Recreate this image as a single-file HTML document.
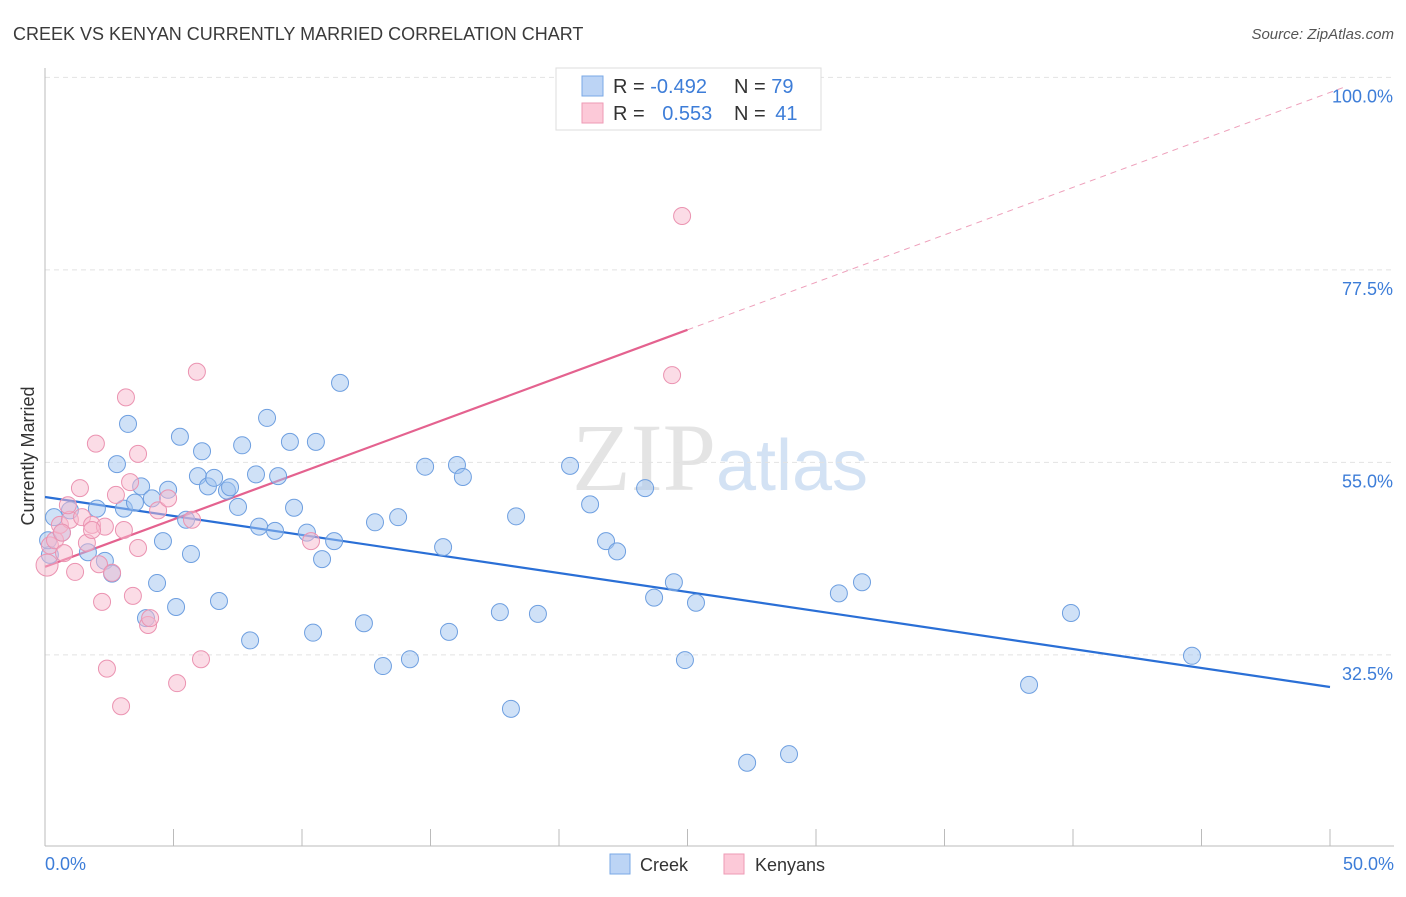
<!DOCTYPE html>
<html><head><meta charset="utf-8"><style>
body{margin:0;background:#fff;font-family:"Liberation Sans",sans-serif;}
svg text{font-family:"Liberation Sans",sans-serif;}
</style></head><body>
<svg id="chart" width="1406" height="892" xmlns="http://www.w3.org/2000/svg">
<text x="13" y="40" font-size="18" fill="#3a3a3a">CREEK VS KENYAN CURRENTLY MARRIED CORRELATION CHART</text>
<text x="1394" y="39" font-size="15" fill="#555" font-style="italic" text-anchor="end">Source: ZipAtlas.com</text>
<text x="720" y="490" font-size="96" fill="#e4e4e4" text-anchor="middle" font-family="Liberation Serif"><tspan font-family="Liberation Serif">ZIP</tspan><tspan fill="#d3e2f4" font-family="Liberation Sans" font-size="72">atlas</tspan></text>
<text transform="translate(34,456) rotate(-90)" font-size="18" fill="#333" text-anchor="middle">Currently Married</text>
<g id="grid"></g><g id="trend"></g><g id="pts"></g>
<g>
<rect x="556" y="68" width="265" height="62" fill="#fff" stroke="#ddd"/>
<rect x="582" y="76" width="21" height="20" fill="#bcd4f5" stroke="#7aa8e6"/>
<rect x="582" y="103" width="21" height="20" fill="#fcc9d8" stroke="#ee9ab5"/>
<text x="613" y="93" font-size="20" fill="#333">R = <tspan fill="#3d7dd8">-0.492</tspan></text>
<text x="734" y="93" font-size="20" fill="#333">N = <tspan fill="#3d7dd8">79</tspan></text>
<text x="613" y="120" font-size="20" fill="#333">R = <tspan fill="#3d7dd8" dx="12">0.553</tspan></text>
<text x="734" y="120" font-size="20" fill="#333">N = <tspan fill="#3d7dd8" dx="4">41</tspan></text>
</g>
<g>
<rect x="610" y="854" width="20" height="20" fill="#bcd4f5" stroke="#7aa8e6"/>
<text x="640" y="871" font-size="18" fill="#333">Creek</text>
<rect x="724" y="854" width="20" height="20" fill="#fcc9d8" stroke="#ee9ab5"/>
<text x="755" y="871" font-size="18" fill="#333">Kenyans</text>
</g>
</svg>
<script>
const yTicks=[32.5,55.0,77.5,100.0];
const xTickVals=[0,5,10,15,20,25,30,35,40,45,50];
const creekX=[0.35,0.66,0.97,1.67,2.02,2.33,2.61,2.80,3.07,3.23,3.50,3.74,3.93,4.16,4.36,4.59,4.79,5.10,5.25,5.49,5.68,5.95,6.11,6.34,6.58,6.77,7.08,7.20,7.51,7.67,7.98,8.21,8.33,8.64,8.95,9.07,9.53,9.69,10.19,10.43,10.54,10.78,11.25,11.48,12.41,12.84,13.15,13.74,14.20,14.79,15.49,15.72,16.03,16.26,17.70,18.13,18.33,19.18,20.43,21.21,21.83,22.26,23.35,23.70,24.47,24.90,25.33,27.32,28.95,30.89,31.79,38.29,39.92,44.63,0.19,0.12];
const creekY=[48.6,46.8,49.4,44.5,49.6,43.5,42.0,54.8,49.6,59.5,50.3,52.2,36.8,50.8,40.9,45.8,51.8,38.1,58.0,48.3,44.3,53.4,56.3,52.2,53.2,38.8,51.7,52.1,49.8,57.0,34.2,53.6,47.5,60.2,47.0,53.4,57.4,49.7,46.8,35.1,57.4,43.7,45.8,64.3,36.2,48.0,31.2,48.6,32.0,54.5,45.1,35.2,54.7,53.3,37.5,26.2,48.7,37.3,54.6,50.1,45.8,44.6,52.0,39.2,41.0,31.9,38.6,19.9,20.9,39.7,41.0,29.0,37.4,32.4,44.2,45.9];
const kenX=[0.08,0.19,0.39,0.58,0.74,0.97,1.17,1.36,1.44,1.63,1.83,1.98,2.10,2.22,2.33,2.41,2.61,2.76,2.96,3.07,3.15,3.31,3.42,3.62,3.62,4.01,4.09,4.40,4.79,5.14,5.72,5.91,6.07,10.35,24.40,24.79,0.66,0.89,1.83];
const kenY=[43.0,45.3,45.9,47.7,44.4,48.3,42.2,52.0,48.6,45.6,47.7,57.2,43.1,38.7,47.5,30.9,42.1,51.2,26.5,47.1,62.6,52.7,39.4,45.0,56.0,36.0,36.8,49.4,50.8,29.2,48.3,65.6,32.0,45.8,65.2,83.8,46.8,50.0,47.1];
const creekTrend=[[0,50.96],[50,28.75]];
const kenTrend=[[0,42.8],[25,70.5]];
const kenTrendExt=[[25,70.5],[50.5,98.8]];
const NS="http://www.w3.org/2000/svg";
const X=v=>45+v*25.7, Y=v=>933-v*8.556;
function mk(t,a,p){const e=document.createElementNS(NS,t);for(const k in a)e.setAttribute(k,a[k]);p.appendChild(e);return e;}
const grid=document.getElementById('grid');
yTicks.forEach(t=>{
 const l=mk('line',{x1:45,x2:1394,y1:Y(t),y2:Y(t),stroke:'#e2e2e2','stroke-dasharray':'5,4'},grid);
 
 
 const tx=mk('text',{x:1393,y:Y(t)+25,'font-size':18,fill:'#3d7dd8','text-anchor':'end'},grid);tx.textContent=t.toFixed(1)+'%';
 
 
});
const ax=mk('line',{x1:45,x2:45,y1:68,y2:846,stroke:'#bbb'},grid);


const bx=mk('line',{x1:45,x2:1394,y1:846,y2:846,stroke:'#bbb'},grid);


xTickVals.forEach(t=>{
 const l=mk('line',{x1:X(t),x2:X(t),y1:829,y2:846,stroke:'#bbb'},grid);
 
 
});
[[0,'start'],[50,'end']].forEach(([v,a])=>{
 const tx=mk('text',{x:v==0?45:1394,y:870,'font-size':18,fill:'#3d7dd8','text-anchor':a},grid);tx.textContent=v.toFixed(1)+'%';
 
 
});
const pts=document.getElementById('pts');
creekX.forEach((x,i)=>{
 const c=mk('circle',{cx:X(x),cy:Y(creekY[i]),r:8.5,fill:'rgba(160,195,240,0.5)',stroke:'#6e9fe0','stroke-width':1},pts);
 
 
});
kenX.forEach((x,i)=>{
 const c=mk('circle',{cx:X(x),cy:Y(kenY[i]),r:i==0?11:8.5,fill:'rgba(248,185,205,0.5)',stroke:'#eb93b1','stroke-width':1},pts);
 
 
});
const tr=document.getElementById('trend');
const l1=mk('line',{x1:X(creekTrend[0][0]),y1:Y(creekTrend[0][1]),x2:X(creekTrend[1][0]),y2:Y(creekTrend[1][1]),stroke:'#2a6fd6','stroke-width':2.2},tr);


const l2=mk('line',{x1:X(kenTrend[0][0]),y1:Y(kenTrend[0][1]),x2:X(kenTrend[1][0]),y2:Y(kenTrend[1][1]),stroke:'#e4628f','stroke-width':2.2},tr);


const l3=mk('line',{x1:X(kenTrendExt[0][0]),y1:Y(kenTrendExt[0][1]),x2:X(kenTrendExt[1][0]),y2:Y(kenTrendExt[1][1]),stroke:'#eea0bb','stroke-width':1,'stroke-dasharray':'6,5'},tr);


</script>
</body></html>
